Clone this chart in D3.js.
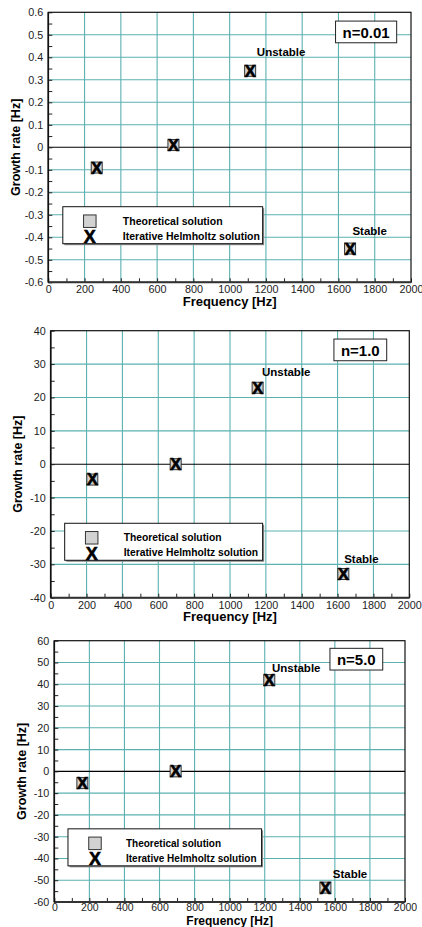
<!DOCTYPE html>
<html>
<head>
<meta charset="utf-8">
<script src="https://cdn.jsdelivr.net/npm/d3@7"></script>
<style>
  body { margin: 0; background: #fff; }
  svg { display: block; font-family: 'Liberation Sans', Arial, sans-serif; }
</style>
</head>
<body>
<svg id="chart"></svg>
<script>
// frequency axis, shared by all panels
const freqTicks = [0, 200, 400, 600, 800, 1000, 1200, 1400, 1600, 1800, 2000];

// n = 0.01
const freqN001 = [267, 690, 1113, 1664];
const theoryN001 = [-0.09, 0.01, 0.34, -0.45];
const helmholtzN001 = [-0.09, 0.01, 0.34, -0.45];
const rateTicksN001 = [-0.6, -0.5, -0.4, -0.3, -0.2, -0.1, 0, 0.1, 0.2, 0.3, 0.4, 0.5, 0.6];

// n = 1.0
const freqN10 = [232, 697, 1154, 1632];
const theoryN10 = [-4.6, 0, 22.9, -32.9];
const helmholtzN10 = [-4.5, 0, 22.9, -32.9];
const rateTicksN10 = [-40, -30, -20, -10, 0, 10, 20, 30, 40];

// n = 5.0
const freqN50 = [160, 692, 1226, 1546];
const theoryN50 = [-5.4, 0, 41.9, -53.4];
const helmholtzN50 = [-5.4, 0, 41.9, -53.4];
const rateTicksN50 = [-60, -50, -40, -30, -20, -10, 0, 10, 20, 30, 40, 50, 60];

// annotations, anchored in data units [frequency, growth rate]
const nLabels = ['n=0.01', 'n=1.0', 'n=5.0'];
const nBoxAt = [[1921, 0.561], [1874, 37.5], [1873, 56.5]]; // top-right corner
const unstableAt = [[1150, 0.406], [1178, 26.4], [1241, 45.7]];
const stableAt = [[1677, -0.391], [1637, -29.7], [1588, -49]];
const legendAt = [[80, -0.264], [78, -17.7], [78, -26.4]]; // top-left corner
const legendEnd = 1182;
const legendLabels = ['Theoretical solution', 'Iterative Helmholtz solution'];

const cfg = {
  width: 422,
  height: 927,
  gridColor: '#5db1b1',
  boxFill: '#d2d2d2',
  tickLen: 4,
  legendH: 37,
};

// panel frames (pixels)
const panels = [
  { left: 48.3, right: 411, top: 12.3, bottom: 282.3, labelPad: 3.5, labelFont: 10.8, titleGap: 23.5, titleFont: 13, legendFont: 10.5, legendTextX: 60, freq: freqN001, theory: theoryN001, helm: helmholtzN001, ticks: rateTicksN001, fmt: d => String(+d.toFixed(1)) },
  { left: 50.7, right: 409.3, top: 330.7, bottom: 597.7, labelPad: 3.5, labelFont: 10.8, titleGap: 23.5, titleFont: 13, legendFont: 10.3, legendTextX: 59, freq: freqN10, theory: theoryN10, helm: helmholtzN10, ticks: rateTicksN10, fmt: d => String(d) },
  { left: 54.3, right: 405, top: 640.7, bottom: 902, labelPad: 1.5, labelFont: 10.5, titleGap: 22.5, titleFont: 12, legendFont: 10, legendTextX: 58, freq: freqN50, theory: theoryN50, helm: helmholtzN50, ticks: rateTicksN50, fmt: d => String(d) },
];

const svg = d3
  .select('#chart')
  .attr('width', cfg.width)
  .attr('height', cfg.height);

svg
  .append('rect')
  .attr('width', cfg.width)
  .attr('height', cfg.height)
  .attr('fill', '#fff');

// gray square marker (theoretical)
function drawSquare(g, cx, cy, size) {
  g.append('rect')
    .attr('x', cx - size / 2)
    .attr('y', cy - size / 2)
    .attr('width', size)
    .attr('height', size)
    .attr('fill', cfg.boxFill)
    .attr('stroke', '#333')
    .attr('stroke-width', 1);
}
// bold X marker (helmholtz)
function drawX(g, cx, cy, fontSize) {
  g.append('text')
    .text('X')
    .attr('x', cx)
    .attr('y', cy)
    .attr('dy', '0.36em')
    .attr('text-anchor', 'middle')
    .attr('stroke', '#000')
    .attr('stroke-width', 0.6)
    .style('font-size', fontSize + 'px')
    .style('font-weight', 'bold')
    .style('fill', '#000');
}

panels.forEach((p, i) => {
  const g = svg.append('g').attr('class', 'panel');
  const lo = p.ticks[0];
  const hi = p.ticks[p.ticks.length - 1];
  const step = p.ticks[1] - p.ticks[0];

  let x = d3.scaleLinear().domain([0, 2000]).range([p.left, p.right]);
  let y = d3.scaleLinear().domain([lo, hi]).range([p.bottom, p.top]);

  // grid lines
  g.append('g')
    .selectAll('line')
    .data(freqTicks.slice(1, -1))
    .enter()
    .append('line')
    .attr('x1', d => x(d))
    .attr('x2', d => x(d))
    .attr('y1', p.top)
    .attr('y2', p.bottom)
    .attr('stroke', cfg.gridColor)
    .attr('stroke-width', 1.1);

  g.append('g')
    .selectAll('line')
    .data(p.ticks.slice(1, -1).filter(d => d !== 0))
    .enter()
    .append('line')
    .attr('x1', p.left)
    .attr('x2', p.right)
    .attr('y1', d => y(d))
    .attr('y2', d => y(d))
    .attr('stroke', cfg.gridColor)
    .attr('stroke-width', 1.1);

  // zero line
  g.append('line')
    .attr('x1', p.left)
    .attr('x2', p.right)
    .attr('y1', y(0))
    .attr('y2', y(0))
    .attr('stroke', '#000')
    .attr('stroke-width', 1.1);

  // y axis, major + minor ticks pointing inwards
  const minorY = d3.range(lo + step / 2, hi, step);
  g.append('g')
    .attr('transform', 'translate(' + p.left + ',0)')
    .call(d3.axisLeft(y).tickValues(p.ticks).tickFormat(p.fmt).tickSize(-cfg.tickLen).tickPadding(5))
    .call(a => a.select('.domain').remove())
    .call(a => a.selectAll('text').style('font-size', '10.8px').style('fill', '#222'))
    .call(a => a.selectAll('line').attr('stroke', '#222'));
  g.append('g')
    .attr('transform', 'translate(' + p.left + ',0)')
    .call(d3.axisLeft(y).tickValues(minorY).tickFormat('').tickSize(-cfg.tickLen))
    .call(a => a.select('.domain').remove())
    .call(a => a.selectAll('line').attr('stroke', '#222'));

  // x axis, ticks every 100 Hz pointing inwards
  const minorX = d3.range(100, 2000, 200);
  g.append('g')
    .attr('transform', 'translate(0,' + p.bottom + ')')
    .call(d3.axisBottom(x).tickValues(freqTicks).tickFormat(d => String(d)).tickSize(-cfg.tickLen).tickPadding(p.labelPad))
    .call(a => a.select('.domain').remove())
    .call(a => a.selectAll('text').style('font-size', p.labelFont + 'px').style('fill', '#222'))
    .call(a => a.selectAll('line').attr('stroke', '#222'));
  g.append('g')
    .attr('transform', 'translate(0,' + p.bottom + ')')
    .call(d3.axisBottom(x).tickValues(minorX).tickFormat('').tickSize(-cfg.tickLen))
    .call(a => a.select('.domain').remove())
    .call(a => a.selectAll('line').attr('stroke', '#222'));

  // frame
  g.append('rect')
    .attr('x', p.left)
    .attr('y', p.top)
    .attr('width', p.right - p.left)
    .attr('height', p.bottom - p.top)
    .attr('fill', 'none')
    .attr('stroke', '#111')
    .attr('stroke-width', 1.2);
  g.append('line')
    .attr('x1', p.left)
    .attr('x2', p.right)
    .attr('y1', p.bottom)
    .attr('y2', p.bottom)
    .attr('stroke', '#333')
    .attr('stroke-width', 2);
  g.append('line')
    .attr('x1', p.left)
    .attr('x2', p.left)
    .attr('y1', p.top)
    .attr('y2', p.bottom)
    .attr('stroke', '#111')
    .attr('stroke-width', 1.6);

  // axis titles
  g.append('text')
    .text('Frequency [Hz]')
    .attr('x', (p.left + p.right) / 2)
    .attr('y', p.bottom + p.titleGap)
    .attr('text-anchor', 'middle')
    .style('font-size', p.titleFont + 'px')
    .style('font-weight', 'bold');
  g.append('text')
    .text('Growth rate [Hz]')
    .attr('transform', 'translate(' + (p.left - 33) + ',' + (p.top + p.bottom) / 2 + ') rotate(-90)')
    .attr('dy', '0.36em')
    .attr('text-anchor', 'middle')
    .style('font-size', '12.5px')
    .style('font-weight', 'bold');

  // data points: theoretical squares, helmholtz X on top
  p.freq.forEach((f, j) => {
    drawSquare(g, x(f), y(p.theory[j]), 11);
  });
  p.freq.forEach((f, j) => {
    drawX(g, x(f), y(p.helm[j]), 17);
  });

  // stability labels
  g.append('text')
    .text('Unstable')
    .attr('x', x(unstableAt[i][0]))
    .attr('y', y(unstableAt[i][1]))
    .style('font-size', '11.5px')
    .style('font-weight', 'bold');
  g.append('text')
    .text('Stable')
    .attr('x', x(stableAt[i][0]))
    .attr('y', y(stableAt[i][1]))
    .style('font-size', '11.5px')
    .style('font-weight', 'bold');

  // n= label box
  const nx = x(nBoxAt[i][0]);
  const ny = y(nBoxAt[i][1]);
  const nBox = g.append('g');
  const nText = nBox
    .append('text')
    .text(nLabels[i])
    .attr('text-anchor', 'end')
    .attr('x', nx - 7)
    .attr('y', ny + 16.7)
    .style('font-size', '15px')
    .style('font-weight', 'bold');
  const tw = nText.node().getComputedTextLength();
  nBox
    .insert('rect', 'text')
    .attr('x', nx - tw - 14)
    .attr('y', ny)
    .attr('width', tw + 14)
    .attr('height', 21.7)
    .attr('fill', '#fff')
    .attr('stroke', '#222')
    .attr('stroke-width', 1);

  // legend
  const lx = x(legendAt[i][0]);
  const ly = y(legendAt[i][1]);
  const lw = x(legendEnd) - lx;
  const legend = g.append('g').attr('transform', 'translate(' + lx + ',' + ly + ')');
  legend
    .append('rect')
    .attr('x', 1.5)
    .attr('y', 1.5)
    .attr('width', lw)
    .attr('height', cfg.legendH)
    .attr('fill', '#888');
  legend
    .append('rect')
    .attr('width', lw)
    .attr('height', cfg.legendH)
    .attr('fill', '#fff')
    .attr('stroke', '#111')
    .attr('stroke-width', 1);
  drawSquare(legend, 27, 14.5, 12.5);
  drawX(legend, 27, 30, 18);
  legend
    .selectAll('.legend_label')
    .data(legendLabels)
    .enter()
    .append('text')
    .attr('x', p.legendTextX)
    .attr('y', (d, k) => 18 + k * 15)
    .text(d => d)
    .style('font-size', p.legendFont + 'px')
    .style('font-weight', 'bold');
});
</script>
</body>
</html>
